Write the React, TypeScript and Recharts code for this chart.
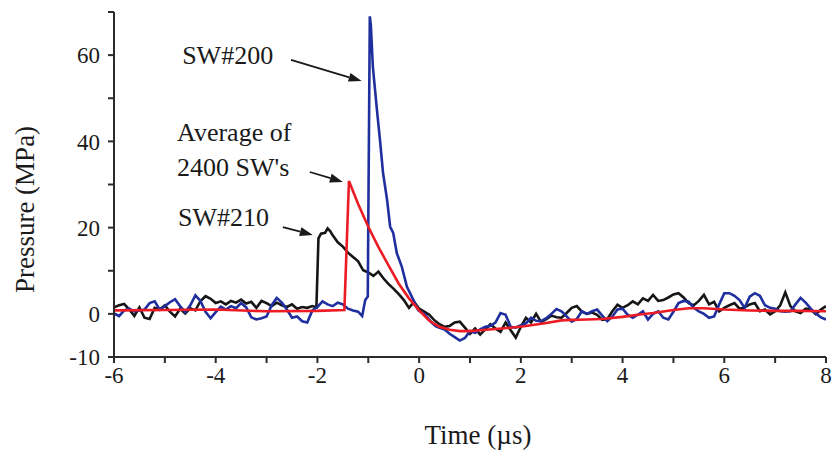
import {
  LineChart,
  Line,
  XAxis,
  YAxis,
  Label,
  ReferenceLine,
  ReferenceDot,
} from "recharts";

// time (µs), pressure (MPa)
const sw210: [number, number][] = [
  [-6.0, 1.5], [-5.9, 2.0], [-5.8, 2.3], [-5.7, 1.0], [-5.6, -0.5], [-5.5, 1.5],
  [-5.4, -0.9], [-5.3, -1.2], [-5.2, 1.4], [-5.1, 1.0], [-5.0, 2.0], [-4.9, 0.5],
  [-4.8, -0.6], [-4.7, 1.2], [-4.6, 0.1], [-4.5, 1.3], [-4.4, 0.8], [-4.3, 3.0],
  [-4.2, 4.1], [-4.1, 3.5], [-4.0, 2.5], [-3.9, 2.9], [-3.8, 2.2], [-3.7, 3.0],
  [-3.6, 2.6], [-3.5, 3.3], [-3.4, 2.4], [-3.3, 2.8], [-3.2, 1.4], [-3.1, 3.0],
  [-3.0, 2.5], [-2.9, 1.8], [-2.8, 2.6], [-2.7, 2.0], [-2.6, 1.6], [-2.5, 2.2],
  [-2.4, 1.2], [-2.3, 1.6], [-2.2, 1.4], [-2.1, 1.8], [-2.02, 1.5], [-1.98, 17.5],
  [-1.93, 18.6], [-1.85, 18.8], [-1.8, 19.8], [-1.75, 19.2], [-1.7, 18.2], [-1.6, 16.6],
  [-1.5, 15.6], [-1.4, 14.2], [-1.3, 13.2], [-1.2, 12.2], [-1.1, 10.1], [-1.0, 9.6],
  [-0.9, 8.8], [-0.8, 9.8], [-0.7, 8.2], [-0.6, 6.9], [-0.5, 5.8], [-0.4, 4.6],
  [-0.3, 3.2], [-0.2, 1.4], [-0.1, 2.8], [0.0, 1.2], [0.1, 0.5], [0.2, -0.2],
  [0.3, -1.5], [0.4, -2.4], [0.5, -3.0], [0.6, -2.8], [0.7, -2.0], [0.8, -1.8],
  [0.9, -3.2], [1.0, -4.6], [1.1, -3.4], [1.2, -4.8], [1.3, -3.6], [1.4, -2.4],
  [1.5, -3.4], [1.6, -4.2], [1.7, -2.0], [1.8, -3.8], [1.9, -5.5], [2.0, -3.0],
  [2.1, -0.9], [2.2, -2.0], [2.3, 0.0], [2.4, -1.9], [2.5, -1.2], [2.6, -0.4],
  [2.7, -0.8], [2.8, -0.9], [2.9, 0.2], [3.0, 1.4], [3.1, 1.8], [3.2, 0.5],
  [3.3, 0.0], [3.4, 0.3], [3.5, -0.2], [3.6, -1.4], [3.7, -1.2], [3.8, 0.6],
  [3.9, 2.1], [4.0, 1.4], [4.1, 2.0], [4.2, 2.9], [4.3, 2.2], [4.4, 3.6],
  [4.5, 3.0], [4.6, 4.4], [4.7, 3.0], [4.8, 3.2], [4.9, 3.8], [5.0, 4.5],
  [5.1, 4.8], [5.2, 3.8], [5.3, 2.5], [5.4, 2.0], [5.5, 3.0], [5.6, 4.4],
  [5.7, 2.2], [5.8, 2.8], [5.9, 0.6], [6.0, 1.4], [6.1, 2.0], [6.2, 2.5],
  [6.3, 1.2], [6.4, 1.5], [6.5, 2.2], [6.6, 2.5], [6.7, 0.6], [6.8, 1.0],
  [6.9, -0.1], [7.0, 0.6], [7.1, 2.0], [7.2, 5.0], [7.3, 1.8], [7.4, 0.6],
  [7.5, 0.2], [7.6, 1.2], [7.7, 1.0], [7.8, -0.1], [7.9, 1.0], [8.0, 1.8],
];

const sw200: [number, number][] = [
  [-6.0, 0.1], [-5.9, -0.5], [-5.8, 0.8], [-5.7, 1.2], [-5.6, 0.6], [-5.5, 0.8],
  [-5.4, 1.0], [-5.3, 2.5], [-5.2, 2.9], [-5.1, 1.0], [-5.0, 1.8], [-4.9, 2.7],
  [-4.8, 3.4], [-4.7, 1.8], [-4.6, 0.4], [-4.5, 2.0], [-4.4, 4.3], [-4.3, 3.0],
  [-4.2, 0.5], [-4.1, -1.0], [-4.0, 0.4], [-3.9, 1.7], [-3.8, 1.0], [-3.7, 1.8],
  [-3.6, 1.3], [-3.5, 2.5], [-3.4, 1.5], [-3.3, -0.8], [-3.2, -1.3], [-3.1, -1.0],
  [-3.0, -0.6], [-2.9, 2.0], [-2.8, 3.7], [-2.7, 2.6], [-2.6, 1.0], [-2.5, -0.9],
  [-2.4, -0.6], [-2.3, -1.7], [-2.2, -2.0], [-2.1, 0.8], [-2.0, 1.6], [-1.9, 2.9],
  [-1.8, 2.2], [-1.7, 1.8], [-1.6, 2.6], [-1.5, 2.2], [-1.4, 1.2], [-1.3, 0.8],
  [-1.2, 0.5], [-1.12, -0.5], [-1.06, 3.2], [-1.01, 4.0], [-0.97, 69.0], [-0.95, 67.0],
  [-0.91, 57.3], [-0.83, 47.3], [-0.77, 40.3], [-0.71, 32.7], [-0.63, 26.4], [-0.57, 20.2],
  [-0.51, 18.8], [-0.44, 14.1], [-0.34, 10.9], [-0.24, 6.3], [-0.14, 3.9], [-0.02, 0.9],
  [0.12, -0.2], [0.25, -2.1], [0.33, -2.9], [0.4, -3.2],
  [0.5, -3.6], [0.6, -4.6], [0.7, -5.4], [0.8, -6.2], [0.9, -5.6], [1.0, -4.0],
  [1.1, -4.4], [1.2, -3.6], [1.3, -3.0], [1.4, -2.8], [1.5, -2.0], [1.6, 0.2],
  [1.7, -0.2], [1.8, -3.0], [1.9, -3.2], [2.0, -2.6], [2.1, -2.2], [2.2, -0.9],
  [2.3, -1.6], [2.4, -1.7], [2.5, -1.0], [2.6, 0.0], [2.7, 1.1], [2.8, 0.6],
  [2.9, -0.6], [3.0, -1.8], [3.1, -1.2], [3.2, 0.6], [3.3, 0.0], [3.4, 0.6],
  [3.5, 1.0], [3.6, -0.4], [3.7, -1.7], [3.8, -0.6], [3.9, 1.0], [4.0, 1.2],
  [4.1, -0.2], [4.2, -0.9], [4.3, -0.2], [4.4, 0.6], [4.5, -1.3], [4.6, 0.0],
  [4.7, 0.6], [4.8, -0.9], [4.9, -1.3], [5.0, 0.5], [5.1, 2.5], [5.2, 3.0],
  [5.3, 2.8], [5.4, 1.4], [5.5, 0.6], [5.6, 0.0], [5.7, -0.9], [5.8, -0.6],
  [5.9, 2.2], [6.0, 4.8], [6.1, 4.8], [6.2, 4.2], [6.3, 3.2], [6.4, 1.4],
  [6.5, 4.0], [6.6, 4.8], [6.7, 4.2], [6.8, 2.0], [6.9, 1.4], [7.0, 1.2],
  [7.1, 0.6], [7.2, 0.5], [7.3, 0.6], [7.4, 2.2], [7.5, 3.7], [7.6, 2.6],
  [7.7, 1.2], [7.8, 0.1], [7.9, -0.8], [8.0, -1.3],
];

const average: [number, number][] = [
  [-6.0, 0.8], [-5.0, 0.9], [-4.0, 1.0], [-3.0, 0.6], [-2.0, 0.7], [-1.47, 0.9],
  [-1.38, 30.8], [-1.2, 25.5], [-1.0, 20.2], [-0.8, 15.5], [-0.6, 11.2], [-0.4, 7.0],
  [-0.2, 3.6], [0.0, 0.8], [0.2, -1.6], [0.4, -3.0], [0.6, -3.7], [0.8, -4.0],
  [1.0, -4.0], [1.2, -3.8], [1.5, -3.5], [1.8, -3.2], [2.1, -2.8], [2.5, -2.1],
  [2.8, -1.5], [3.0, -1.4], [3.3, -1.3], [3.6, -1.2], [4.0, -0.7], [4.3, -0.2],
  [4.6, 0.2], [5.0, 0.9], [5.3, 1.3], [5.6, 1.3], [6.0, 1.0], [6.5, 0.8],
  [7.0, 0.7], [7.5, 0.7], [8.0, 0.6],
];

const xTicks = [-6, -5, -4, -3, -2, -1, 0, 1, 2, 3, 4, 5, 6, 7, 8];
const yTicks = [-10, 0, 10, 20, 30, 40, 50, 60, 70];
const yLabelled = [-10, 0, 20, 40, 60];

// text labels and arrows, in data units: [t, p] of text start, arrow from -> to
const labels = [
  { lines: ["SW#200"], t: -4.66, p: 60.0, from: [-2.52, 58.9], to: [-1.13, 54.0] },
  { lines: ["Average of", "2400 SW's"], t: -4.76, p: 42.2, from: [-2.15, 32.9], to: [-1.5, 30.6] },
  { lines: ["SW#210"], t: -4.74, p: 22.5, from: [-2.68, 20.1], to: [-2.09, 18.3] },
];

const toRows = (pts: [number, number][]) => pts.map(([t, p]) => ({ t, p }));

const FONT = "'Liberation Serif', 'Times New Roman', serif";
const AXIS = "#2b2b2b";

// eslint-disable-next-line @typescript-eslint/no-explicit-any
function Arrow(props: any) {
  const { x1, y1, x2, y2 } = props;
  if (x1 == null) return null;
  const ang = Math.atan2(y2 - y1, x2 - x1);
  const len = 13;
  const w = 4.5;
  const bx = x2 - len * Math.cos(ang);
  const by = y2 - len * Math.sin(ang);
  const px = -Math.sin(ang) * w;
  const py = Math.cos(ang) * w;
  return (
    <g>
      <line x1={x1} y1={y1} x2={bx} y2={by} stroke="#1a1a1a" strokeWidth={1.8} />
      <polygon points={`${x2},${y2} ${bx + px},${by + py} ${bx - px},${by - py}`} fill="#1a1a1a" />
    </g>
  );
}

export default function App() {
  return (
    <div style={{ position: "absolute", left: 0, top: 0, background: "#fff" }}>
      <LineChart width={832} height={454} margin={{ top: 12, right: 6, bottom: 57, left: 14 }}>
        <XAxis
          dataKey="t"
          type="number"
          domain={[-6, 8]}
          ticks={xTicks}
          interval={0}
          tickFormatter={(v: number) => (v % 2 === 0 ? String(v) : "")}
          height={40}
          stroke={AXIS}
          strokeWidth={2}
          tickSize={6}
          tickMargin={4}
          tick={{ fill: "#1a1a1a", fontSize: 23, fontFamily: FONT }}
          allowDataOverflow
        >
          <Label
            value="Time (µs)"
            position="bottom"
            offset={28}
            dx={8}
            style={{ fill: "#1a1a1a", fontSize: 27, fontFamily: FONT }}
          />
        </XAxis>
        <YAxis
          type="number"
          domain={[-10, 70]}
          ticks={yTicks}
          interval={0}
          tickFormatter={(v: number) => (yLabelled.includes(v) ? String(v) : "")}
          width={100}
          stroke={AXIS}
          strokeWidth={2}
          tickSize={6}
          tickMargin={8}
          tick={{ fill: "#1a1a1a", fontSize: 23, fontFamily: FONT }}
          allowDataOverflow
        >
          <Label
            value="Pressure (MPa)"
            angle={-90}
            position="insideLeft"
            offset={10}
            dy={25}
            style={{ fill: "#1a1a1a", fontSize: 27, fontFamily: FONT, textAnchor: "middle" }}
          />
        </YAxis>

        <Line data={toRows(sw210)} dataKey="p" stroke="#161616" strokeWidth={2.6} dot={false} isAnimationActive={false} />
        <Line data={toRows(sw200)} dataKey="p" stroke="#1f2f9e" strokeWidth={2.6} dot={false} isAnimationActive={false} />
        <Line data={toRows(average)} dataKey="p" stroke="#ec1c24" strokeWidth={2.6} dot={false} isAnimationActive={false} />

        {labels.map((l, i) => (
          <ReferenceLine
            key={"a" + i}
            segment={[
              { x: l.from[0], y: l.from[1] },
              { x: l.to[0], y: l.to[1] },
            ]}
            shape={<Arrow />}
            ifOverflow="visible"
          />
        ))}
        {labels.map((l, i) => (
          <ReferenceDot
            key={"t" + i}
            x={l.t}
            y={l.p}
            ifOverflow="visible"
            // eslint-disable-next-line @typescript-eslint/no-explicit-any
            shape={(p: any) => (
              <text x={p.cx} y={p.cy} fontFamily={FONT} fontSize={26} fill="#1a1a1a" dominantBaseline="central">
                {l.lines.map((s, j) => (
                  <tspan key={j} x={p.cx} dy={j === 0 ? 0 : 35}>
                    {s}
                  </tspan>
                ))}
              </text>
            )}
          />
        ))}
      </LineChart>
    </div>
  );
}
